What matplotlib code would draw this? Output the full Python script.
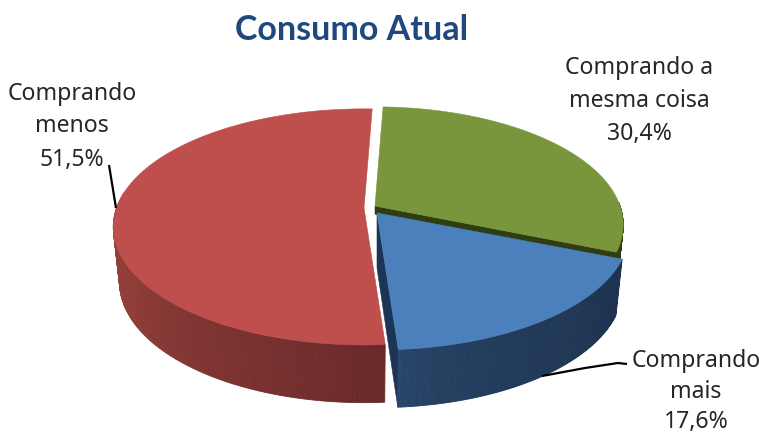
import numpy as np
import matplotlib
matplotlib.use("Agg")
import matplotlib.pyplot as plt
from matplotlib.colors import to_rgb
from matplotlib.patches import Polygon

# Chart data
categories = ["Comprando menos", "Comprando mais", "Comprando a mesma coisa"]
values = [51.5, 17.6, 30.4]
label_lines = [["Comprando", "menos"], ["Comprando", "mais"], ["Comprando a", "mesma coisa"]]
title = "Consumo Atual"

W, H = 763, 433
FONT = "Noto Sans"
START = 87.8
RX, RY, K = 250.0, 115.0, 0.16      # disc radii and perspective strength
DROP, BOTTOM_X, BOTTOM_Y = 55.0, 0.975, 1.02  # thickness of the disc

# slice order: counter-clockwise from the top of the disc
apex = {0: (364, 208), 1: (377, 213), 2: (375, 206)}
width_scale = {0: 0.99, 1: 0.995, 2: 0.98}
top_col = {0: "#BE4F4C", 1: "#4C80BC", 2: "#7A963C"}
side_col = {0: ("#A5463F", "#692A2A"), 1: ("#2A486C", "#1D3350"), 2: ("#2F3D12", "#2F3D12")}
cut_col = {1: "#1C3555", 2: "#2F3D12"}

fig = plt.figure(figsize=(W / 100, H / 100), dpi=100, facecolor="white")
ax = fig.add_axes([0, 0, 1, 1])
ax.set_xlim(0, W)
ax.set_ylim(H, 0)
ax.axis("off")


def project(theta, i, bottom=False):
    """Map disc angles (degrees) to screen positions with simple perspective."""
    t = np.radians(np.atleast_1d(theta))
    f = 1 / (1 + K * np.sin(t))
    sx, sy, dy = (BOTTOM_X, BOTTOM_Y, DROP) if bottom else (1, 1, 0)
    x = apex[i][0] + sx * RX * width_scale[i] * np.cos(t) * f
    y = apex[i][1] + dy - sy * RY * np.sin(t) * f
    return np.column_stack([x, y])


fractions = np.array(values) / sum(values)
edges = START + 360 * np.concatenate([[0], np.cumsum(fractions)])
spans = {i: (edges[i], edges[i + 1]) for i in range(3)}


def draw_side(i, a0, a1, z, gamma=1.0):
    """Curved outer wall of a slice, shaded in narrow strips."""
    c0, c1 = map(np.array, map(to_rgb, side_col[i]))
    cuts = np.linspace(a0, a1, 121)
    for j in range(120):
        s = (j / 119) ** gamma
        poly = np.vstack([project(cuts[j:j + 2], i),
                          project(cuts[j:j + 2], i, True)[::-1]])
        col = c0 + (c1 - c0) * s
        ax.add_patch(Polygon(poly, closed=True, fc=col, ec=col, lw=0.6, zorder=z))


def draw_top(i, z):
    a0, a1 = spans[i]
    arc = project(np.linspace(a0, a1, 200), i)
    poly = np.vstack([[apex[i]], arc])
    ax.add_patch(Polygon(poly, closed=True, fc=top_col[i], ec=top_col[i], lw=0.4, zorder=z))


def draw_cut(i, angle, z, depth=DROP):
    """Flat radial face of a slice, seen where slices are pulled apart."""
    p = project(angle, i)[0]
    q = project(angle, i, True)[0]
    a = np.array(apex[i], float)
    poly = [a, p, q, a + [0, depth]]
    ax.add_patch(Polygon(poly, closed=True, fc=cut_col[i], ec=cut_col[i], lw=0.4, zorder=z))


# Green slice sits at the back; only a thin edge of its cut face shows above blue
draw_cut(2, spans[2][0], 1, depth=8)
draw_side(2, spans[2][0], 362, 2)
draw_top(2, 3)

# Red slice
draw_side(0, 172, spans[0][1], 2)
draw_top(0, 3)

# Blue slice at the front right
draw_cut(1, spans[1][0], 4)
draw_side(1, spans[1][0], spans[1][1], 4, gamma=0.45)
draw_top(1, 5)

# Leader lines
leaders = [([109, 116], [165, 208]), ([542, 585, 618, 627], [376, 368, 363, 364])]
for xs, ys in leaders:
    ax.plot(xs, ys, color="black", lw=1.6, zorder=6, solid_capstyle="butt")


def pct(v):
    return f"{v:.1f}".replace(".", ",") + "%"


# Data labels, one text per line, placed on their baselines
label_pos = {0: (72, (100, 132, 166)), 1: (696, (367, 398, 428)), 2: (639, (74, 107, 140))}
for i, (cx, ys) in label_pos.items():
    for line, y in zip(label_lines[i] + [pct(values[i])], ys):
        ax.text(cx, y, line, ha="center", va="baseline", fontsize=16.6,
                family=FONT, color="#262626", zorder=7)

ax.text(352, 40, title, ha="center", va="baseline", fontsize=24.5, fontweight="bold",
        family="Lato", color="#1F497D")

fig.savefig("out.png", dpi=100, facecolor="white")
